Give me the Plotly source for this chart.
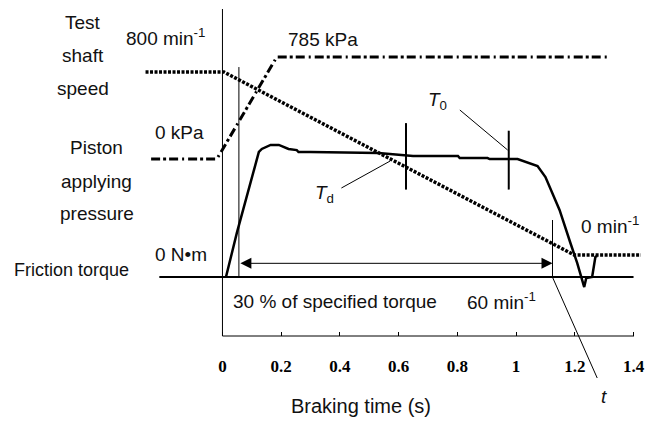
import plotly.graph_objects as go

# ---------------- data ----------------
# Test shaft speed (min^-1)
speed_time = [-0.262, 0.005, 1.198, 1.425]
speed_rpm = [800, 800, 0, 0]

# Piston applying pressure (kPa)
pressure_time = [-0.243, -0.019, 0.185, 1.320]
pressure_kpa = [0, 0, 785, 785]

# Friction torque (% of specified torque)
torque_time = [0.012, 0.032, 0.049, 0.124, 0.134, 0.164, 0.192, 0.225, 0.253,
               0.259, 0.300, 0.531, 0.649, 0.802, 0.808, 0.903, 0.910, 1.005,
               1.073, 1.100, 1.114, 1.148, 1.185, 1.208, 1.232, 1.239, 1.259,
               1.270, 1.276]
torque_pct = [0, 12.6, 23.2, 65.8, 67.4, 69.5, 69.5, 67.4, 66.8,
              65.8, 65.8, 65.3, 63.7, 63.7, 62.6, 62.6, 62.1, 62.1,
              58.4, 52.6, 47.4, 35.3, 17.9, 7.4, -5.3, -0.5, 0,
              10.5, 11.1]

# events
t_30pct = 0.056      # torque reaches 30 % of specified torque
t_60rpm = 1.124      # speed falls to 60 min^-1
t_Td = 0.625
t_T0 = 0.975
Td_bar = [46, 81]
T0_bar = [46, 77]
interval_level = 7.2
t_ref_line = [-0.215, 1.40]
guide_30_top = 110.5
guide_60_top = 30

tick_vals = [0, 0.2, 0.4, 0.6, 0.8, 1.0, 1.2, 1.4]
tick_text = ["0", "0.2", "0.4", "0.6", "0.8", "1", "1.2", "1.4"]

# ---------------- layout geometry ----------------
W, H = 645, 425
PLOT_BOTTOM = 336          # px of the time axis
X0_PX, PX_PER_S = 223.5, 295.0

def yrange(zero_px, px_per_unit):
    return [-(PLOT_BOTTOM - zero_px) / px_per_unit, zero_px / px_per_unit]

def P(px, py):
    return px / W, (PLOT_BOTTOM - py) / PLOT_BOTTOM

BLACK = "black"
fig = go.Figure()

fig.add_trace(go.Scatter(x=torque_time, y=torque_pct, mode="lines", yaxis="y",
                         line=dict(color=BLACK, width=2.5), hoverinfo="skip"))
fig.add_trace(go.Scatter(x=speed_time, y=speed_rpm, mode="lines", yaxis="y2",
                         line=dict(color=BLACK, width=3.5, dash="3px,1.5px"),
                         hoverinfo="skip"))
fig.add_trace(go.Scatter(x=pressure_time, y=pressure_kpa, mode="lines", yaxis="y3",
                         line=dict(color=BLACK, width=3,
                                   dash="9px,3px,3px,3px,9px,4px,2px,4px"),
                         hoverinfo="skip"))
# zero torque reference line
fig.add_trace(go.Scatter(x=t_ref_line, y=[0, 0], mode="lines", yaxis="y",
                         line=dict(color=BLACK, width=2), hoverinfo="skip"))
# thin guide verticals
fig.add_trace(go.Scatter(x=[t_30pct, t_30pct], y=[0, guide_30_top], mode="lines",
                         line=dict(color=BLACK, width=1), hoverinfo="skip"))
fig.add_trace(go.Scatter(x=[t_60rpm, t_60rpm], y=[0, guide_60_top], mode="lines",
                         line=dict(color=BLACK, width=1), hoverinfo="skip"))
# Td / T0 markers
fig.add_trace(go.Scatter(x=[t_Td, t_Td], y=Td_bar, mode="lines",
                         line=dict(color=BLACK, width=2), hoverinfo="skip"))
fig.add_trace(go.Scatter(x=[t_T0, t_T0], y=T0_bar, mode="lines",
                         line=dict(color=BLACK, width=2), hoverinfo="skip"))

shapes = []
def seg(p1, p2, w=1):
    x1, y1 = P(*p1); x2, y2 = P(*p2)
    shapes.append(dict(type="line", xref="paper", yref="paper", x0=x1, y0=y1,
                       x1=x2, y1=y2, line=dict(color=BLACK, width=w)))

seg((223.5, 9), (223.5, 336))        # vertical axis
seg((223.5, 336), (637, 336))        # time axis
seg((462, 110), (510, 150))          # T0 leader
seg((343, 188), (392, 161))          # Td leader
seg((555, 277), (600, 378))          # t leader

ann = []
def txt(s, px, py, size=19, **kw):
    x, y = P(px, py)
    d = dict(text=s, x=x, y=y, xref="paper", yref="paper", showarrow=False,
             xanchor="center", yanchor="middle",
             font=dict(family="Liberation Sans", size=size, color="#111"))
    d.update(kw)
    ann.append(d)

txt("Test", 83, 23)
txt("shaft", 83, 56)
txt("speed", 83, 89)
txt("Piston", 97, 147)
txt("applying", 97, 181)
txt("pressure", 97, 213)
txt("Friction torque", 72, 270, size=18)
txt("800 min<sup>-1</sup>", 166, 37)
txt("785 kPa", 325, 39)
txt("0 kPa", 180, 132)
txt("0 N•m", 182, 254)
txt("0 min<sup>-1</sup>", 613, 225)
txt("30 % of specified torque", 337, 301)
txt("60 min<sup>-1</sup>", 504, 301)
txt("<i>T</i><sub>0</sub>", 440, 101)
txt("<i>T</i><sub>d</sub>", 326, 194)
txt("<i>t</i>", 607, 396)
txt("Braking time (s)", 363, 406, size=20)

# interval arrow
ann.append(dict(x=t_60rpm, y=interval_level, ax=t_30pct, ay=interval_level,
                xref="x", yref="y", axref="x", ayref="y", text="",
                showarrow=True, arrowside="end+start", arrowhead=2,
                arrowsize=2.2, arrowwidth=1, arrowcolor=BLACK, standoff=0,
                startstandoff=0))

fig.update_layout(
    width=W, height=H, autosize=False,
    margin=dict(l=0, r=0, t=0, b=H - PLOT_BOTTOM),
    paper_bgcolor="white", plot_bgcolor="white", showlegend=False,
    shapes=shapes, annotations=ann,
    xaxis=dict(range=[-X0_PX / PX_PER_S, (W - X0_PX) / PX_PER_S],
               showgrid=False, zeroline=False, showline=False,
               tickmode="array", tickvals=tick_vals, ticktext=tick_text,
               ticks="inside", ticklen=4, tickwidth=1, tickcolor=BLACK,
               ticklabelstandoff=18, ticklabeloverflow="allow",
               tickfont=dict(family="Liberation Serif", size=17,
                             weight="bold", color=BLACK)),
    yaxis=dict(range=yrange(277, 1.9), visible=False),
    yaxis2=dict(range=yrange(255, 183 / 800), overlaying="y", visible=False),
    yaxis3=dict(range=yrange(159, 102 / 785), overlaying="y", visible=False),
)

fig.write_html("out.html",
               config={"displayModeBar": False},
               post_script="document.body.style.margin='0';"
                           "document.body.style.overflow='hidden';")
